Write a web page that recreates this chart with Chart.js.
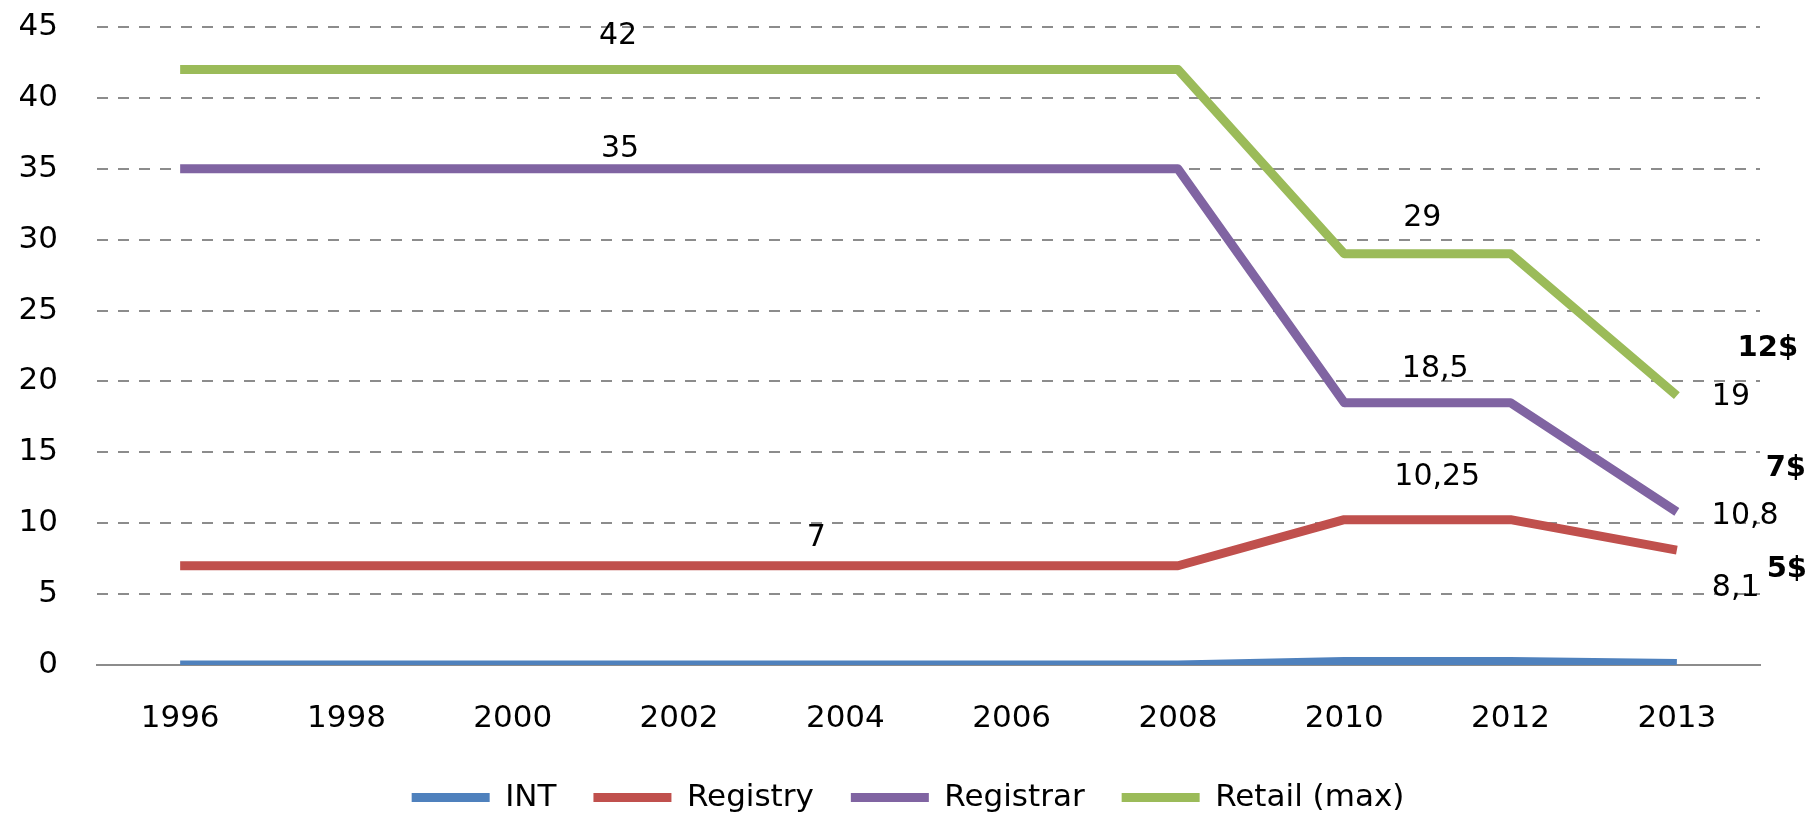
<!DOCTYPE html>
<html>
<head>
<meta charset="utf-8">
<script src="https://cdn.jsdelivr.net/npm/chart.js@4/dist/chart.umd.min.js"></script>
<style>
  html, body { margin: 0; padding: 0; background: #fff; }
  #wrap { width: 1809px; height: 815px; }
</style>
</head>
<body>
<div id="wrap"><canvas id="precos" width="1809" height="815"></canvas></div>
<script>
const anos = ['1996', '1998', '2000', '2002', '2004', '2006', '2008', '2010', '2012', '2013'];
const intFee = [0, 0, 0, 0, 0, 0, 0, 0.25, 0.25, 0.1];
const registry = [7, 7, 7, 7, 7, 7, 7, 10.25, 10.25, 8.1];
const registrar = [35, 35, 35, 35, 35, 35, 35, 18.5, 18.5, 10.8];
const retail = [42, 42, 42, 42, 42, 42, 42, 29, 29, 19];
const notas = ['12$', '7$', '5$'];

// rotulos: serie, ponto de ancoragem e deslocamento em px
const rotulos = [
  { serie: 3, i: 3, dx: -61, dy: -33 },
  { serie: 2, i: 3, dx: -59, dy: -20 },
  { serie: 1, i: 4, dx: -29, dy: -28 },
  { serie: 3, i: 7, dx: 78, dy: -36 },
  { serie: 2, i: 7, dx: 91, dy: -34 },
  { serie: 1, i: 7, dx: 93, dy: -42 },
  { serie: 3, i: 9, dx: 35, dy: 2, align: 'left' },
  { serie: 2, i: 9, dx: 35, dy: 4, align: 'left' },
  { serie: 1, i: 9, dx: 35, dy: 38, align: 'left' },
  { serie: 3, i: 9, dx: 91, dy: -47, texto: notas[0], bold: true },
  { serie: 2, i: 9, dx: 109, dy: -43, texto: notas[1], bold: true },
  { serie: 1, i: 9, dx: 110, dy: 19, texto: notas[2], bold: true }
];

const rotulosPlugin = {
  id: 'rotulos',
  afterLayout(chart) {
    // legenda um pouco mais a direita, como no original
    chart.legend.left += 18;
    chart.legend.right += 18;
  },
  afterDatasetsDraw(chart) {
    const { ctx, scales: { x, y } } = chart;
    ctx.save();
    ctx.fillStyle = '#000';
    ctx.textBaseline = 'middle';
    rotulos.forEach(r => {
      const valor = chart.data.datasets[r.serie].data[r.i];
      const px = x.getPixelForValue(r.i) + r.dx;
      const py = y.getPixelForValue(valor) + r.dy;
      ctx.font = r.bold ? 'bold 29px "DejaVu Sans"' : '30px "DejaVu Sans"';
      ctx.textAlign = r.align || 'center';
      ctx.fillText(r.texto || String(valor).replace('.', ','), px, py);
    });
    ctx.restore();
  }
};

const cores = ['#4F81BD', '#C0504D', '#8064A2', '#9BBB59'];
const nomes = ['INT', 'Registry', 'Registrar', 'Retail (max)'];
const series = [intFee, registry, registrar, retail];

new Chart(document.getElementById('precos'), {
  type: 'line',
  data: {
    labels: anos,
    datasets: series.map((s, k) => ({
      label: nomes[k],
      data: s,
      borderColor: cores[k],
      backgroundColor: cores[k],
      borderWidth: 9,
      borderJoinStyle: 'round',
      pointRadius: 0,
      tension: 0,
      fill: false
    }))
  },
  options: {
    responsive: false,
    animation: false,
    devicePixelRatio: 1,
    layout: { padding: { left: 20, right: 49, top: 0, bottom: 0 } },
    scales: {
      x: {
        offset: true,
        grid: { display: false, drawTicks: false },
        border: { display: true, color: '#8c8c8c', width: 2 },
        ticks: { color: '#000', padding: 35, font: { family: 'DejaVu Sans', size: 31 } },
        afterFit(scale) { scale.height = 80; }
      },
      y: {
        min: 0,
        max: 45,
        grid: { color: '#8c8c8c', lineWidth: 2, drawTicks: false },
        border: { display: false, dash: [11, 10] },
        ticks: { stepSize: 5, color: '#000', padding: 39, font: { family: 'DejaVu Sans', size: 31 } },
        afterFit(scale) {
          scale.width = 77;
          scale.paddingTop = 27;
          scale.paddingBottom = 0;
        }
      }
    },
    plugins: {
      tooltip: { enabled: false },
      legend: {
        position: 'bottom',
        maxHeight: 70,
        labels: {
          boxWidth: 78,
          boxHeight: 9,
          padding: 37,
          color: '#000',
          font: { family: 'DejaVu Sans', size: 31 },
          generateLabels(chart) {
            return Chart.defaults.plugins.legend.labels.generateLabels(chart)
              .map(item => ({ ...item, lineWidth: 0 }));
          }
        }
      }
    }
  },
  plugins: [rotulosPlugin]
});
</script>
</body>
</html>
